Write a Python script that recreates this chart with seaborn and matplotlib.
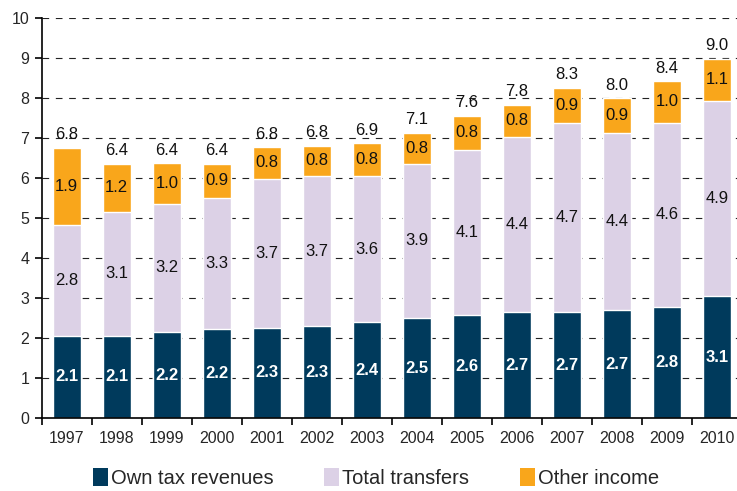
import matplotlib
matplotlib.use("Agg")
import matplotlib.pyplot as plt
from matplotlib.patches import Patch
import seaborn as sns
import pandas as pd
import numpy as np

years = ["1997", "1998", "1999", "2000", "2001", "2002", "2003",
         "2004", "2005", "2006", "2007", "2008", "2009", "2010"]
own_tax = [2.07, 2.07, 2.16, 2.23, 2.27, 2.31, 2.41, 2.50, 2.58, 2.66, 2.66, 2.70, 2.78, 3.06]
transfers = [2.77, 3.09, 3.21, 3.28, 3.72, 3.74, 3.64, 3.87, 4.14, 4.37, 4.72, 4.44, 4.61, 4.87]
other = [1.92, 1.21, 1.01, 0.86, 0.79, 0.77, 0.83, 0.77, 0.84, 0.81, 0.89, 0.86, 1.04, 1.06]
series_names = ["Own tax revenues", "Total transfers", "Other income"]
colors = ["#003a5c", "#dcd1e6", "#f9a61b"]

sns.set_style("white")
plt.rcParams["font.family"] = ["Liberation Sans", "DejaVu Sans"]

df = pd.DataFrame({"year": years, "own": own_tax, "trans": transfers, "other": other})
df["c1"] = df["own"]
df["c2"] = df["own"] + df["trans"]
df["c3"] = df["c2"] + df["other"]

fig = plt.figure(figsize=(7.37, 4.91), dpi=100)
ax = fig.add_axes([41.7 / 737, 1 - 418.3 / 491, (737 - 41.7) / 737, 400 / 491])

width = 0.56
sns.barplot(data=df, x="year", y="c3", color=colors[2], width=width, saturation=1, ax=ax, zorder=2)
sns.barplot(data=df, x="year", y="c2", color=colors[1], width=width, saturation=1, ax=ax, zorder=3)
sns.barplot(data=df, x="year", y="c1", color=colors[0], width=width, saturation=1, ax=ax, zorder=4)

ax.set_xlim(-0.45, 13.4)
ax.set_ylim(0, 10)
ax.set_yticks(range(0, 11))
ax.set_xlabel("")
ax.set_ylabel("")

ax.yaxis.grid(True, linestyle=(0, (6, 6)), color="#222222", lw=0.8)
ax.xaxis.grid(False)
ax.set_axisbelow(True)
for s in ["top", "right"]:
    ax.spines[s].set_visible(False)
for s in ["left", "bottom"]:
    ax.spines[s].set_color("black")
    ax.spines[s].set_linewidth(1.2)
    ax.spines[s].set_zorder(6)

# x ticks at boundaries, labels at centers
ax.set_xticks(np.arange(len(years)) - 0.5, minor=False)
ax.set_xticklabels([])
ax.set_xticks(np.arange(len(years)), minor=True)
ax.set_xticklabels(years, minor=True)
ax.tick_params(axis="x", which="major", length=5, width=1.2, color="black", direction="out", bottom=True)
ax.tick_params(axis="x", which="minor", length=0, pad=9, labelsize=11.5)
ax.tick_params(axis="y", length=5, width=1.2, color="black", direction="out", left=True, pad=4, labelsize=11.5)

fs = 12
for i in range(len(years)):
    o, t, r = own_tax[i], transfers[i], other[i]
    ax.text(i, o / 2, f"{o:.1f}", ha="center", va="center", color="white",
            fontsize=fs, fontweight="bold", zorder=7)
    ax.text(i, o + t / 2, f"{t:.1f}", ha="center", va="center", color="#111111",
            fontsize=fs, zorder=7)
    ax.text(i, o + t + r / 2, f"{r:.1f}", ha="center", va="center", color="#111111",
            fontsize=fs, zorder=7)
    tot = o + t + r
    ax.annotate(f"{tot:.1f}", (i, tot), xytext=(0, 4), textcoords="offset points",
                ha="center", va="bottom", fontsize=fs, color="#111111", zorder=7)

handles = [Patch(facecolor=c, edgecolor="none") for c in colors]
fig.legend(handles, series_names, loc="center", bbox_to_anchor=(0.51, 0.026),
           ncol=3, frameon=False, fontsize=14.5, handlelength=0.75, handleheight=1.0,
           handletextpad=0.15, columnspacing=2.5, borderpad=0.2)

fig.savefig("out.png", dpi=100)
